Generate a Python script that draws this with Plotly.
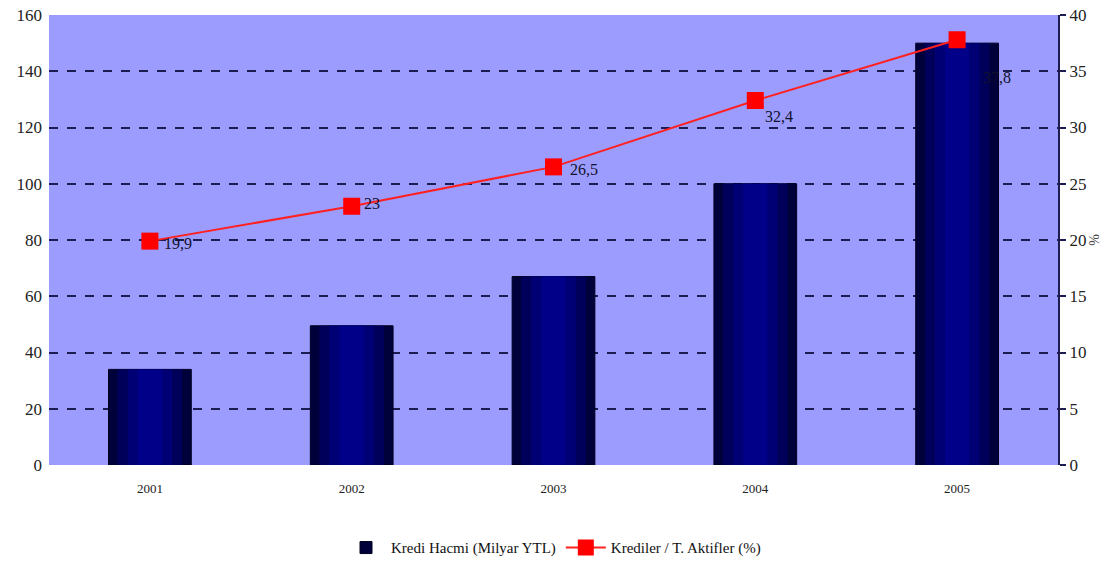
import plotly.graph_objects as go

# Yearly credit volume (bars, left axis) and credit / total assets ratio (line, right axis)
years = [2001, 2002, 2003, 2004, 2005]
kredi_hacmi = [34, 49.5, 67, 100, 150]
kredi_aktif_orani = [19.9, 23, 26.5, 32.4, 37.8]
oran_etiketleri = ["19,9", "23", "26,5", "32,4", "37,8"]

left_ticks = [0, 20, 40, 60, 80, 100, 120, 140, 160]
right_ticks = [0, 5, 10, 15, 20, 25, 30, 35, 40]

SERIF = "Liberation Serif, Times New Roman, serif"
NAVY = "#1c1c50"

fig = go.Figure()

# Bars built from overlaid layers to give a dark-edged, lighter-centre look
bar_layers = [
    (0.41, "#00003a", True),
    (0.32, "#00005a", False),
    (0.22, "#000074", False),
    (0.12, "#000088", False),
]
for w, col, show in bar_layers:
    fig.add_trace(go.Bar(
        x=years, y=kredi_hacmi, width=w,
        marker=dict(color=col, line=dict(color="#000020", width=1 if show else 0)),
        name="Kredi Hacmi (Milyar YTL)", showlegend=show,
        legendgroup="bar",
    ))

fig.add_trace(go.Scatter(
    x=years, y=kredi_aktif_orani, yaxis="y2", mode="lines+markers",
    name="Krediler / T. Aktifler (%)",
    line=dict(color="#ff2020", width=2),
    marker=dict(symbol="square", size=17, color="#ff0000"),
))

# Value labels beside each ratio marker (pixel offsets)
label_dx = [12, 10, 14, 8, 24]
label_dy = [-2, 3, -3, -16, -38]
for x, y, t, dx, dy in zip(years, kredi_aktif_orani, oran_etiketleri, label_dx, label_dy):
    fig.add_annotation(
        x=x, y=y, xref="x", yref="y2", text=t, showarrow=False,
        xanchor="left", yanchor="middle", xshift=dx, yshift=dy,
        font=dict(family=SERIF, size=16, color="#10102a"),
    )

fig.update_layout(
    width=1120, height=571,
    margin=dict(l=49, r=62, t=15, b=106, autoexpand=False),
    paper_bgcolor="white", plot_bgcolor="#9c9cff",
    barmode="overlay",
    font=dict(family=SERIF, size=14, color="#222"),
    xaxis=dict(
        range=[2000.5, 2005.5], tickvals=years, ticktext=[str(y) for y in years],
        showgrid=False, showline=False, zeroline=False, ticks="",
        tickfont=dict(family=SERIF, size=13, color="#222"),
        ticklabelstandoff=14,
    ),
    yaxis=dict(
        range=[0, 160], tickvals=left_ticks, showline=False, zeroline=False,
        showgrid=True, gridcolor=NAVY, gridwidth=2, griddash="dash",
        tickfont=dict(family=SERIF, size=17, color="#222"),
        ticklabelstandoff=6,
    ),
    yaxis2=dict(
        range=[0, 40], tickvals=right_ticks, overlaying="y", side="right",
        showgrid=False, zeroline=False, showline=True, linecolor=NAVY, linewidth=2,
        ticks="outside", ticklen=6, tickwidth=2, tickcolor=NAVY,
        tickfont=dict(family=SERIF, size=17, color="#222"),
        title=dict(text="%", font=dict(family=SERIF, size=14, color="#444"), standoff=4),
    ),
    legend=dict(
        orientation="h", x=0.5, xanchor="center", y=-0.184, yanchor="middle",
        font=dict(family=SERIF, size=15, color="#111"), bgcolor="rgba(0,0,0,0)",
        traceorder="normal", itemwidth=40,
    ),
)

fig.write_html("out.html")
